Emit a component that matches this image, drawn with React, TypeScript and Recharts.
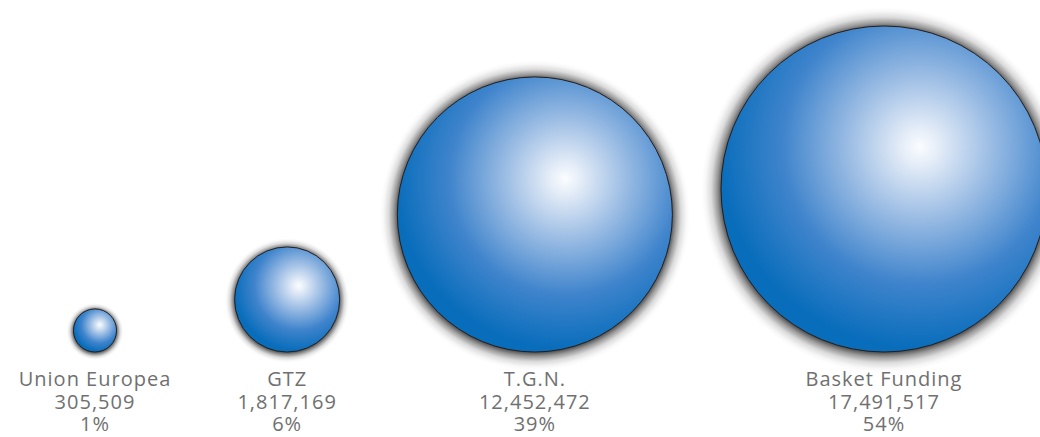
import { ScatterChart, Scatter, XAxis, YAxis, ZAxis } from 'recharts'

// funding sources, amounts and share labels as printed under each bubble
const funders = ['Union Europea', 'GTZ', 'T.G.N.', 'Basket Funding']
const amounts = [305509, 1817169, 12452472, 17491517]
const shares = ['1%', '6%', '39%', '54%']

// slots run 5..2 on a reversed log axis, so gaps shrink as the bubbles grow
const data = funders.map((name, i) => ({
  name,
  amount: amounts[i],
  share: shares[i],
  slot: funders.length + 1 - i,
  base: 0,
}))

const Bubble = (props: any) => {
  const { cx, cy, width, size, payload } = props
  const r = width ? width / 2 : Math.sqrt(size / Math.PI)
  const idx = data.findIndex((d) => d.name === payload.name)
  // soft grey halo, wider on the big bubbles
  const w = 5 + r * 0.09
  const R = r + w
  const y = cy - r // cy is the baseline; bubbles rest on it
  return (
    <g>
      <defs>
        <radialGradient id={`halo-${idx}`} cx="0.5" cy="0.5" r="0.5">
          <stop offset={(r - 1) / R} stopColor="#000" stopOpacity={0.7} />
          <stop offset={(r + w * 0.2) / R} stopColor="#000" stopOpacity={0.4} />
          <stop offset={(r + w * 0.5) / R} stopColor="#000" stopOpacity={0.14} />
          <stop offset={(r + w * 0.8) / R} stopColor="#000" stopOpacity={0.03} />
          <stop offset={1} stopColor="#000" stopOpacity={0} />
        </radialGradient>
      </defs>
      <circle cx={cx} cy={y + 1} r={R} fill={`url(#halo-${idx})`} />
      <circle cx={cx} cy={y} r={r} fill="url(#ballGradient)" stroke="#231f20" strokeWidth={1} />
    </g>
  )
}

const FunderTick = (props: any) => {
  const { x, y, payload } = props
  const d = data.find((item) => item.slot === payload.value)
  if (!d) return null
  return (
    <g fill="#707070" fontFamily="'Open Sans', sans-serif" fontSize={20} letterSpacing={1} textAnchor="middle">
      <text x={x} y={y + 26}>{d.name}</text>
      <text x={x} y={y + 49}>{d.amount.toLocaleString('en-US')}</text>
      <text x={x} y={y + 71}>{d.share}</text>
    </g>
  )
}

export default function App() {
  return (
    <div style={{ width: 1040, height: 437, background: '#fff' }}>
      <style>{'body{margin:0}'}</style>
      <ScatterChart width={1040} height={437} margin={{ top: 0, right: 156, left: 95, bottom: 0 }}>
        <defs>
          <radialGradient id="ballGradient" cx="0.61" cy="0.37" fx="0.61" fy="0.37" r="0.62">
            <stop offset="0" stopColor="#fbfdff" />
            <stop offset="0.1" stopColor="#e2ebf7" />
            <stop offset="0.35" stopColor="#9cbde4" />
            <stop offset="0.68" stopColor="#3f84cc" />
            <stop offset="1" stopColor="#086dbb" />
          </radialGradient>
        </defs>
        <XAxis
          type="number"
          dataKey="slot"
          scale="log"
          domain={[2, 5]}
          reversed
          ticks={data.map((d) => d.slot)}
          interval={0}
          tick={<FunderTick />}
          axisLine={false}
          tickLine={false}
          height={85}
        />
        <YAxis type="number" dataKey="base" domain={[0, 1]} hide />
        <ZAxis type="number" dataKey="amount" domain={[0, 17491517]} range={[0, 83470]} />
        <Scatter data={data} shape={<Bubble />} isAnimationActive={false} />
      </ScatterChart>
    </div>
  )
}
